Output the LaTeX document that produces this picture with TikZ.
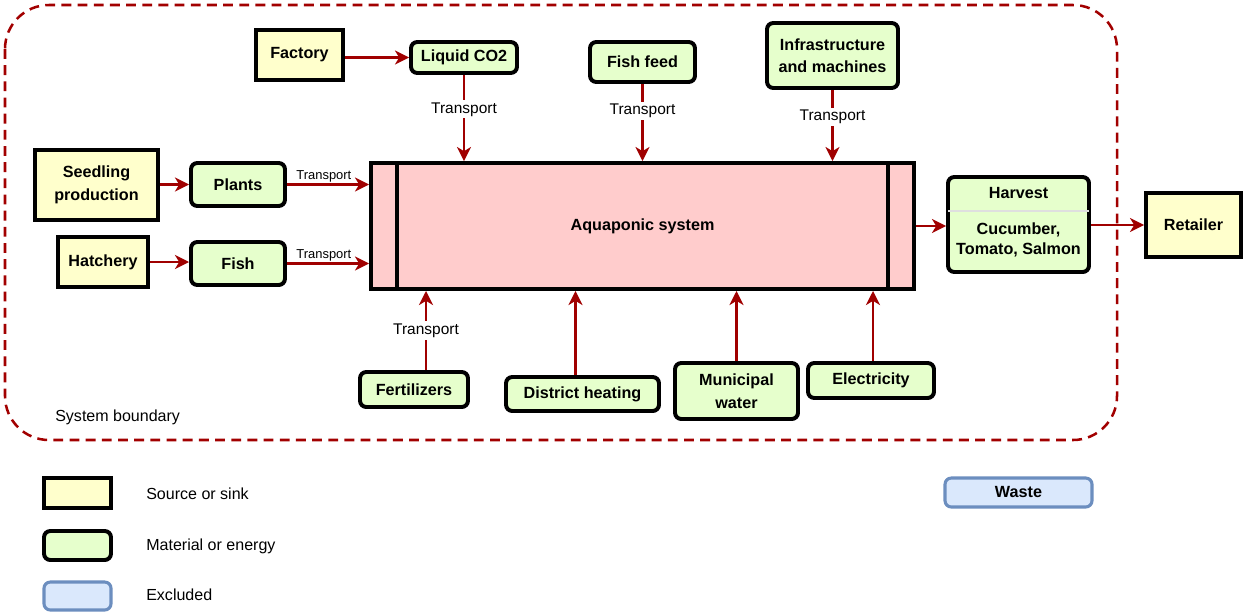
\documentclass[tikz,border=0pt]{standalone}
\usepackage{fontspec}
\setmainfont{Liberation Sans}
\usepackage{xcolor}
\usepackage{tikz}
\usetikzlibrary{arrows.meta}
\definecolor{bound}{HTML}{A20000}
\definecolor{flow}{HTML}{A00000}
\definecolor{srcfill}{HTML}{FFFFCC}
\definecolor{matfill}{HTML}{E6FFCC}
\definecolor{sysfill}{HTML}{FFCCCC}
\definecolor{exfill}{HTML}{DAE8FC}
\definecolor{exline}{HTML}{6C8EBF}
\tikzset{
  sz/.style 2 args={minimum width=#1*0.025cm, minimum height=#2*0.025cm},
  src/.style={draw=black, fill=srcfill, line width=2.8pt, inner sep=0pt, align=center,
    font=\fontsize{11.5}{16}\selectfont\bfseries},
  mat/.style={src, fill=matfill, rounded corners=4.5pt},
  excl/.style={mat, draw=exline, fill=exfill, line width=2.2pt},
  sys/.style={draw=black, fill=sysfill, line width=2.8pt, inner sep=0pt,
    font=\fontsize{11.5}{16}\selectfont\bfseries},
  arr/.style={draw=flow, line width=1.8pt, -{Stealth[length=10pt,width=10pt,inset=3pt]}},
  bnd/.style={draw=bound, line width=1.8pt, dash pattern=on 7pt off 4.5pt, rounded corners=1.1cm},
  tr/.style={font=\fontsize{11}{13}\selectfont, fill=white, inner sep=1.5pt},
  trs/.style={font=\fontsize{9.2}{11}\selectfont, inner sep=1pt},
  lab/.style={font=\fontsize{11.4}{13}\selectfont, anchor=west, inner sep=0pt},
}

\begin{document}
\begin{tikzpicture}[x=0.025cm, y=-0.025cm]
  \useasboundingbox (0,0) rectangle (1248,614);
  % system boundary
  \draw[bnd] (5,5) rectangle (1117,440);
  \node[lab] (sysb) at (55,417) {System boundary};

  % central system
  \node[sys, sz={543}{126}] (aq) at (642.5,226) {Aquaponic system};
  \draw[line width=2.8pt] (397,163) -- (397,289) (888,163) -- (888,289);

  % sources and materials
  \node[src, sz={87}{50}] (factory) at (299.5,55) {Factory};
  \node[mat, sz={106}{31}] (co2) at (464,57.5) {Liquid CO2};
  \node[mat, sz={105}{40}] (feed) at (642.5,62) {Fish feed};
  \node[mat, sz={131}{65}] (infra) at (832.5,55.5) {Infrastructure\\and machines};
  \node[src, sz={123}{70}] (seed) at (96.5,185) {Seedling\\production};
  \node[mat, sz={94}{43}] (plants) at (238,184.5) {Plants};
  \node[src, sz={90}{50}] (hatch) at (103,262) {Hatchery};
  \node[mat, sz={94}{43}] (fish) at (238,263.5) {Fish};
  \node[mat, sz={108}{35}] (fert) at (414,389.5) {Fertilizers};
  \node[mat, sz={153}{34}] (heat) at (582.5,394) {District heating};
  \node[mat, sz={123}{56}] (water) at (736.5,391) {Municipal\\water};
  \node[mat, sz={126}{35}] (elec) at (871,380.5) {Electricity};

  % harvest and retailer
  \node[mat, sz={141}{95}] (harvest) at (1018.5,224.5) {};
  \coordinate (hvsep) at (1018.5,211);
  \draw[gray!25, line width=1.2pt] ([xshift=1.4pt]harvest.west |- hvsep) -- ([xshift=-1.4pt]harvest.east |- hvsep);
  \node[font=\fontsize{11.5}{16}\selectfont\bfseries] (hvtitle) at (1018.5,193) {Harvest};
  \node[font=\fontsize{11.5}{14.5}\selectfont\bfseries, align=center] (hvbody) at (1018.5,240) {Cucumber,\\Tomato, Salmon};
  \node[src, sz={95}{64}] (retail) at (1193.5,225) {Retailer};

  % flows
  \draw[arr] (factory.east |- co2) -- (co2.west);
  \draw[arr] (co2.south) -- node[tr, pos=0.4] {Transport} (co2.south |- aq.north);
  \draw[arr] (feed.south) -- node[tr, pos=0.35] {Transport} (feed.south |- aq.north);
  \draw[arr] (infra.south) -- node[tr, pos=0.38] {Transport} (infra.south |- aq.north);
  \draw[arr] (seed.east |- plants) -- (plants.west);
  \draw[arr] (plants.east) -- node[trs, above, pos=0.45] {Transport} (plants.east -| aq.west);
  \draw[arr] (hatch.east) -- (fish.west |- hatch);
  \draw[arr] (fish.east) -- node[trs, above, pos=0.45] {Transport} (fish.east -| aq.west);
  \draw[arr] ([xshift=12*0.025cm]fert.north) -- node[tr, pos=0.5] {Transport} ([xshift=12*0.025cm]fert.north |- aq.south);
  \draw[arr] ([xshift=-7*0.025cm]heat.north) -- ([xshift=-7*0.025cm]heat.north |- aq.south);
  \draw[arr] (water.north) -- (water.north |- aq.south);
  \draw[arr] ([xshift=2*0.025cm]elec.north) -- ([xshift=2*0.025cm]elec.north |- aq.south);
  \draw[arr] (aq.east) -- (harvest.west |- aq.east);
  \draw[arr] (harvest.east |- retail) -- (retail.west);

  % legend
  \node[src, sz={67}{30}] (lgsrc) at (77.5,493) {};
  \node[lab] (lgsrct) at (146,494) {Source or sink};
  \node[mat, sz={67}{29}] (lgmat) at (77.5,545.5) {};
  \node[lab] (lgmatt) at (146,546) {Material or energy};
  \node[excl, sz={67}{28}] (lgex) at (77.5,596) {};
  \node[lab] (lgext) at (146,595) {Excluded};
  \node[excl, sz={147}{29}] (waste) at (1018.5,492.5) {Waste};
\end{tikzpicture}
\end{document}
